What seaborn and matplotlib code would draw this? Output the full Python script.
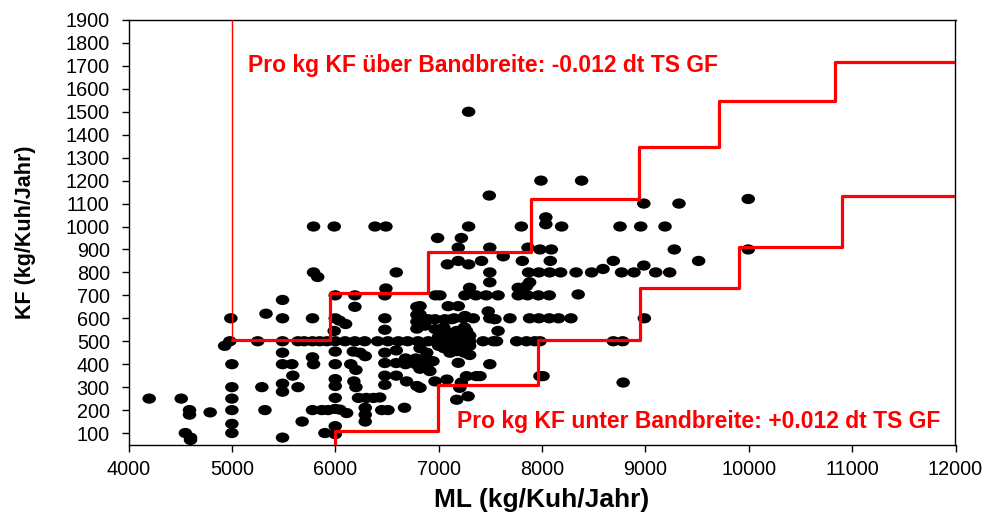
import matplotlib
matplotlib.use("Agg")
import matplotlib.pyplot as plt
import seaborn as sns
import pandas as pd
from matplotlib.path import Path
from matplotlib.transforms import Affine2D

# ---------------- data ----------------
points = [
    (4200, 250), (4510, 250), (4590, 200), (4590, 180), (4550, 100), (4600, 80), (4600, 70), (4790, 190),
    (4990, 600), (4980, 500), (4930, 480), (5000, 400), (5000, 300), (5000, 250), (5000, 200), (5000, 140), (5000, 100),
    (5250, 500), (5330, 620), (5290, 300), (5320, 200),
    (5490, 680), (5490, 600), (5490, 500), (5490, 450), (5490, 400), (5580, 400), (5590, 350), (5490, 315), (5490, 280),
    (5640, 300), (5680, 150), (5490, 80),
    (5640, 500), (5700, 500), (5780, 500), (5850, 500), (5920, 500),
    (5780, 600), (5780, 430), (5790, 400), (5790, 800), (5830, 780), (5780, 200), (5870, 200), (5930, 200), (5900, 100),
    (5790, 1000), (5990, 1000),
    (6000, 700), (6000, 600), (6040, 590), (6100, 575), (5990, 545), (6000, 500), (6000, 455), (6000, 400), (6000, 335),
    (6000, 305), (6000, 253), (6000, 205), (6000, 130), (6000, 95), (6045, 202), (6110, 187),
    (6095, 500), (6190, 700), (6190, 650), (6190, 500), (6175, 455), (6240, 450), (6290, 435), (6150, 400), (6200, 375),
    (6180, 325), (6200, 300), (6225, 253), (6300, 253), (6370, 253), (6290, 210), (6290, 180), (6290, 150), (6285, 500),
    (6410, 500), (6510, 500), (6610, 500), (6385, 1000), (6490, 1000), (6490, 730), (6480, 700), (6480, 600), (6480, 550),
    (6480, 450), (6480, 405), (6480, 350), (6480, 310), (6430, 255), (6450, 200), (6510, 200), (6590, 800), (6590, 460),
    (6590, 405), (6590, 350), (6680, 425), (6780, 425), (6880, 420), (6680, 400), (6780, 400), (6900, 405),
    (6700, 500), (6800, 500), (6900, 500), (6790, 650), (6790, 615), (6790, 585), (6790, 555), (6900, 596), (6690, 325),
    (6790, 305), (6670, 210), (6820, 297), (6820, 380), (6915, 370), (6820, 470), (6885, 450), (6820, 653), (6820, 617),
    (6865, 568), (6970, 700), (6990, 950),
    (7010, 500), (7110, 500), (7205, 500), (7300, 500), (7050, 500), (7160, 500), (7250, 500),
    (6965, 596), (7060, 596), (7125, 596), (7240, 600), (7335, 600), (6965, 553), (7060, 545), (7175, 545), (7270, 545),
    (7205, 530), (7300, 524), (7220, 472), (7300, 480), (7110, 450), (7175, 457), (6945, 413), (7190, 406), (6965, 325),
    (7080, 333), (7220, 320), (7270, 348), (7365, 348), (7205, 297), (7285, 260), (7175, 245), (7012, 700), (7093, 653),
    (7190, 653), (7255, 610), (7255, 700), (7360, 700), (7300, 733), (7085, 835), (7190, 850), (7290, 835), (7190, 908),
    (7220, 950), (7290, 1000), (7290, 1500), (7000, 480), (7050, 470), (7150, 480), (7100, 520), (7000, 520), (7050, 560),
    (7150, 600), (7250, 560), (7300, 440), (7250, 450),
    (7415, 850), (7430, 500), (7530, 500), (7560, 500), (7460, 700), (7575, 700), (7480, 630), (7495, 600), (7545, 596),
    (7495, 400), (7400, 348), (7495, 800), (7495, 757), (7495, 908), (7490, 1135), (7575, 545), (7625, 870),
    (7690, 600), (7755, 500), (7850, 500), (7930, 500), (7980, 500), (7770, 700), (7860, 700), (7965, 700), (8070, 700),
    (7770, 733), (7850, 740), (7880, 757), (7800, 720), (7870, 800), (7970, 800), (8075, 800), (7810, 850), (8080, 850),
    (7865, 908), (7980, 900), (8090, 900), (7800, 1000), (8037, 1040), (8037, 1010), (7990, 1200), (7880, 600),
    (7970, 600), (8070, 600), (7980, 348), (8010, 348),
    (8160, 600), (8280, 600), (8180, 800), (8330, 800), (8480, 800), (8590, 815), (8190, 1000), (8383, 1200), (8350, 704),
    (8690, 850), (8770, 800), (8890, 800), (8985, 830), (9100, 800), (9235, 800), (8755, 1000), (8955, 1000), (9190, 1000),
    (8985, 1100), (9325, 1100), (9280, 900), (9515, 850), (9995, 1120), (9995, 900), (8990, 600), (8690, 500),
    (8780, 500), (8785, 320),
]
ml = [p[0] for p in points]
kf = [p[1] for p in points]

# band step lines
upper_x = [5000, 5945, 6900, 7895, 8940, 9710, 10830, 12000]
upper_y = [505, 710, 887, 1122, 1346, 1547, 1717, 1717]
lower_x = [6000, 6000, 6990, 7960, 8945, 9910, 10905, 12000]
lower_y = [50, 110, 309, 505, 730, 912, 1133, 1133]

x_ticks = list(range(4000, 12001, 1000))
y_ticks = list(range(100, 1901, 100))

text_upper = "Pro kg KF über Bandbreite: -0.012 dt TS GF"
text_lower = "Pro kg KF unter Bandbreite: +0.012 dt TS GF"

# ---------------- style ----------------
sns.set_theme(style="ticks")
plt.rcParams["font.family"] = ["Liberation Sans", "DejaVu Sans"]
plt.rcParams["text.color"] = "black"
plt.rcParams["axes.labelcolor"] = "black"
plt.rcParams["xtick.color"] = "black"
plt.rcParams["ytick.color"] = "black"

fig = plt.figure(figsize=(9.89, 5.13), dpi=100)
fig.patch.set_facecolor("white")
ax = fig.add_axes([128.5 / 989, 1 - 444.5 / 513, 827 / 989, 424.5 / 513])
ax.set_facecolor("white")

df = pd.DataFrame({"ML": ml, "KF": kf})
ellipse = Path.unit_circle().transformed(Affine2D().scale(1.32, 1.0))
sns.scatterplot(data=df, x="ML", y="KF", ax=ax, marker=ellipse, s=95,
                color="black", edgecolor="none", linewidth=0, zorder=3)

red = "#ff0000"
ax.plot([upper_x[0], upper_x[0]], [upper_y[0], 1900], color=red, lw=1.0, zorder=4)
ax.plot(upper_x, upper_y, drawstyle="steps-post", color=red, lw=2.3, zorder=4)
ax.plot(lower_x, lower_y, drawstyle="steps-post", color=red, lw=2.3, zorder=4)

ax.text(5156, 1701, text_upper, color=red, fontsize=16.5, fontweight="bold",
        ha="left", va="center", zorder=5)
ax.text(7177, 151, text_lower, color=red, fontsize=16.5, fontweight="bold",
        ha="left", va="center", zorder=5)

ax.set_xlim(4000, 12000)
ax.set_ylim(50, 1900)
ax.set_xticks(x_ticks)
ax.set_yticks(y_ticks)
ax.tick_params(axis="both", direction="out", length=5, width=1, colors="black",
               labelcolor="black", labelsize=14.3)
ax.tick_params(axis="x", pad=6)
ax.tick_params(axis="y", pad=8.5)
for sp in ax.spines.values():
    sp.set_visible(True)
    sp.set_color("black")
    sp.set_linewidth(1.0)

ax.set_xlabel("ML (kg/Kuh/Jahr)", fontsize=19, fontweight="bold", color="black")
ax.set_ylabel("KF (kg/Kuh/Jahr)", fontsize=15.5, fontweight="bold", color="black")
ax.xaxis.set_label_coords(0.5, -0.102)
ax.yaxis.set_label_coords(-0.112, 0.5)

fig.savefig("out.png", dpi=100, facecolor="white")
